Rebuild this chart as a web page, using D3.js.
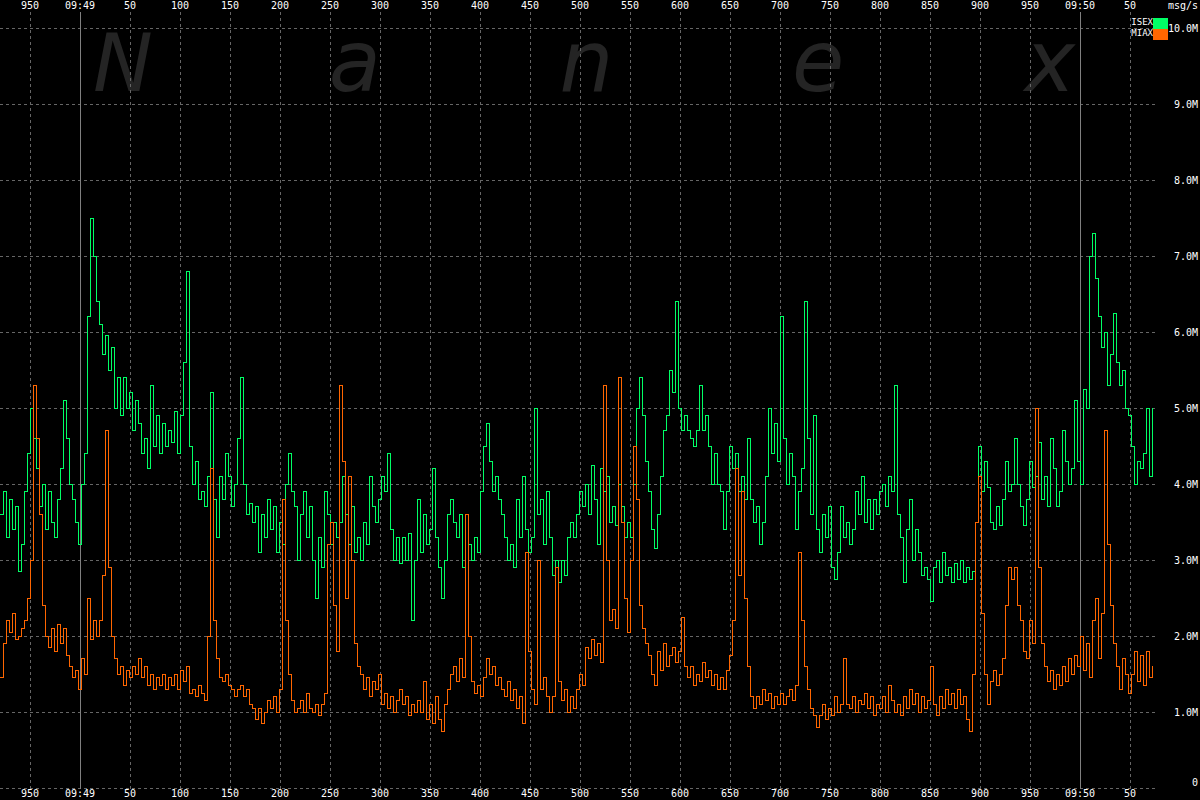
<!DOCTYPE html>
<html><head><meta charset="utf-8">
<script src="https://cdn.jsdelivr.net/npm/d3@7"></script>
<style>html,body{margin:0;padding:0;background:#000;overflow:hidden}</style>
</head><body><svg id="c" width="1200" height="800"></svg>
<script>
// time axis: milliseconds relative to 09:49:00.000, sampled every stepMs
const startMs = -80;
const stepMs = 3;

// ISEX messages per second (millions)
const isex = [
3.6,3.9,3.3,3.8,3.4,3.7,2.85,3.2,3.9,4.4,
5.0,4.6,4.2,3.7,4.0,3.4,3.9,3.5,3.3,3.8,
4.2,5.1,4.6,4.0,3.8,3.5,3.2,4.0,4.4,6.2,
7.5,7.0,6.4,6.1,5.7,5.95,5.5,5.8,5.0,5.4,
4.9,5.4,5.0,5.2,4.7,5.1,4.8,4.4,4.6,4.2,
5.3,4.5,4.9,4.4,4.8,4.5,4.7,4.55,4.95,4.4,
4.9,5.6,6.8,4.5,4.0,4.3,3.8,3.9,3.7,4.1,
5.2,3.8,3.3,4.1,3.8,4.4,4.1,3.7,4.0,4.6,
5.4,4.0,3.6,3.75,3.5,3.7,3.1,3.6,3.3,3.8,
3.4,3.7,3.1,3.5,3.2,4.0,4.4,3.9,3.7,3.0,
3.6,3.9,3.3,3.7,3.0,2.5,3.3,2.9,3.9,3.6,
3.2,3.5,3.3,3.5,4.1,3.6,3.2,3.7,3.1,3.3,
3.0,3.5,3.2,4.1,3.7,3.5,3.8,4.1,3.9,4.4,
3.4,3.0,3.3,2.95,3.3,3.0,3.35,2.2,3.0,3.8,
3.1,3.6,3.2,3.4,4.2,3.3,2.9,2.5,3.0,3.6,
3.8,3.5,3.3,3.6,2.9,3.6,3.2,3.0,3.3,3.1,
3.9,4.5,4.8,4.3,3.9,4.1,3.8,3.6,3.3,3.0,
3.2,2.9,3.8,3.3,4.1,3.4,3.1,3.3,5.0,3.6,
3.8,3.2,3.9,3.3,2.8,3.0,2.7,3.0,2.8,3.3,
3.5,3.3,3.6,3.9,3.7,4.0,3.6,4.25,3.8,3.2,
4.2,3.9,4.1,3.5,3.7,3.45,4.0,3.7,3.3,3.5,
3.3,4.0,5.0,5.4,4.9,4.3,3.9,3.4,3.15,3.6,
4.1,4.7,4.9,5.5,5.2,6.4,5.0,4.7,4.9,4.7,
4.6,4.5,4.7,5.3,4.7,4.9,4.5,4.0,4.4,4.0,
3.9,3.4,3.9,4.5,4.2,4.4,3.9,4.1,3.8,4.6,
3.8,3.5,3.7,3.2,3.5,4.1,5.0,4.4,4.8,4.3,
6.2,4.6,4.0,4.4,4.1,3.4,3.9,4.2,6.4,4.6,
3.6,4.9,3.4,3.1,3.6,3.3,3.7,2.9,2.75,3.1,
3.7,3.3,3.5,3.2,3.4,3.9,3.6,4.1,3.5,3.8,
3.4,3.8,3.6,3.9,4.0,3.7,4.1,3.9,5.3,3.6,
3.3,2.7,3.4,3.8,3.0,3.4,3.1,2.8,2.9,2.75,
2.45,2.9,3.0,2.7,3.1,2.8,2.9,2.7,2.95,2.75,
3.0,2.7,2.9,2.75,2.85,3.5,4.5,3.9,4.3,3.95,
3.5,3.4,3.7,3.45,3.8,4.3,3.9,4.0,4.6,4.0,
3.7,3.45,3.8,4.3,3.95,4.1,4.55,3.8,4.1,3.7,
4.6,4.2,3.7,3.9,4.7,4.3,4.0,4.2,5.1,4.3,
4.0,5.25,5.0,7.0,7.3,6.7,6.2,5.8,6.0,5.3,
5.7,6.25,5.6,5.3,5.5,5.0,4.9,4.5,4.0,4.3,
4.2,4.4,5.0,4.1,5.0
];

// MIAX messages per second (millions)
const miax = [
1.45,1.9,2.2,2.05,2.3,1.95,2.0,2.1,2.2,2.5,
3.0,5.3,4.6,3.6,2.4,2.0,1.85,2.1,1.8,2.15,
1.9,2.1,1.75,1.6,1.45,1.55,1.3,1.7,1.5,2.5,
1.95,2.2,2.0,2.2,2.8,4.7,2.9,2.0,1.7,1.5,
1.6,1.35,1.55,1.45,1.6,1.5,1.7,1.45,1.6,1.35,
1.5,1.3,1.45,1.35,1.5,1.3,1.45,1.35,1.5,1.3,
1.55,1.4,1.6,1.25,1.3,1.2,1.35,1.25,1.15,2.0,
4.2,2.2,1.7,1.45,1.4,1.5,1.35,1.3,1.2,1.3,
1.35,1.2,1.3,1.1,1.05,0.9,1.05,0.85,1.0,1.15,
1.05,1.2,1.0,1.3,3.8,2.2,1.5,1.15,1.0,1.05,
1.15,1.0,1.25,1.05,1.0,1.1,0.95,1.1,1.25,3.2,
3.5,2.4,1.8,5.3,4.3,2.5,4.1,3.0,1.9,1.6,
1.5,1.3,1.45,1.2,1.4,1.3,1.5,1.1,1.25,1.05,
1.2,1.0,1.15,1.3,1.1,1.2,0.95,1.1,1.0,1.15,
1.0,1.4,0.9,1.1,0.85,1.2,0.9,0.75,1.1,1.3,
1.5,1.6,1.4,1.7,1.45,3.6,2.0,1.4,1.25,1.35,
1.2,1.45,1.7,1.5,1.6,1.35,1.45,1.3,1.2,1.4,
1.15,1.3,1.05,1.2,0.85,3.1,1.8,1.3,1.1,3.0,
1.3,1.45,1.2,1.0,1.2,2.9,1.4,1.15,1.3,1.0,
1.2,1.05,1.3,1.5,1.35,1.85,1.7,1.95,1.75,1.9,
1.65,5.3,3.0,2.2,2.35,2.1,5.4,3.5,2.5,2.05,
3.0,4.5,3.8,2.4,2.1,1.9,1.75,1.5,1.35,1.8,
1.55,1.9,1.6,1.75,1.85,1.65,1.8,2.25,1.6,1.45,
1.6,1.35,1.5,1.4,1.65,1.45,1.55,1.35,1.5,1.3,
1.45,1.3,1.55,1.75,2.2,4.2,2.8,3.9,2.5,1.6,
1.2,1.05,1.2,1.1,1.3,1.15,1.25,1.05,1.2,1.1,
1.25,1.1,1.2,1.3,1.15,1.35,3.1,2.2,1.6,1.3,
1.05,0.95,0.8,0.95,1.1,0.9,1.05,0.95,1.2,1.0,
1.1,1.7,1.1,1.05,1.2,1.0,1.15,1.1,1.25,1.05,
1.2,0.95,1.1,1.05,1.2,1.0,1.35,1.15,1.0,1.1,
0.95,1.2,1.05,1.3,1.1,1.25,1.0,1.2,1.05,1.15,
1.6,1.1,0.95,1.2,1.05,1.3,1.1,1.25,1.05,1.3,
1.1,1.2,0.9,0.75,1.5,3.5,4.1,2.3,1.5,1.1,
1.4,1.55,1.35,1.5,1.7,2.4,2.9,2.75,2.9,2.4,
2.2,1.8,1.7,2.2,1.9,5.0,2.9,1.9,1.6,1.4,
1.55,1.3,1.5,1.35,1.6,1.4,1.7,1.5,1.75,1.6,
2.0,1.55,1.9,1.45,2.2,2.5,1.7,2.3,4.7,3.2,
2.4,1.9,1.6,1.3,1.7,1.5,1.25,1.5,1.8,1.4,
1.75,1.35,1.8,1.45,1.6
];

const seriesNames = ["ISEX", "MIAX"];
const seriesColors = ["#00ff66", "#ff6600"];
const yTicks = [0,1,2,3,4,5,6,7,8,9,10];
const yTickLabels = ["0","1.0M","2.0M","3.0M","4.0M","5.0M","6.0M","7.0M","8.0M","9.0M","10.0M"];
const xTicks = [-50,0,50,100,150,200,250,300,350,400,450,500,550,600,650,700,750,800,850,900,950,1000,1050];
const xTickLabels = ["950","09:49","50","100","150","200","250","300","350","400","450","500","550","600","650","700","750","800","850","900","950","09:50","50"];
const majorTicks = [0, 1000];
const unitLabel = "msg/s";
const watermark = ["N","a","n","e","x"];

const svg = d3.select("#c");
svg.append("rect").attr("width",1200).attr("height",800).attr("fill","#000");

const x = d3.scaleLinear().domain([-80, 1075]).range([0, 1155]);
const y = d3.scaleLinear().domain([0, 10]).range([788, 28]);
const mono = "'DejaVu Sans Mono', monospace";

// watermark
const wmX = d3.scalePoint().domain(d3.range(watermark.length)).range([123, 1050]);
svg.append("g").selectAll("text").data(watermark).join("text")
  .attr("x",(d,i)=>wmX(i)).attr("y",91)
  .attr("text-anchor","middle")
  .attr("font-family","'DejaVu Sans', sans-serif")
  .attr("font-style","italic")
  .attr("font-size",(d,i)=> i===0 ? 80 : 85)
  .attr("fill","#242424")
  .text(d=>d);

// grid
const grid = svg.append("g").attr("shape-rendering","crispEdges");
grid.selectAll("line.h").data(yTicks).join("line").attr("class","h")
  .attr("x1",0).attr("x2",1155)
  .attr("y1",d=>Math.round(y(d))+0.5).attr("y2",d=>Math.round(y(d))+0.5)
  .attr("stroke","#666").attr("stroke-dasharray","3,3");
grid.selectAll("line.v").data(xTicks).join("line").attr("class","v")
  .attr("x1",d=>Math.round(x(d))+0.5).attr("x2",d=>Math.round(x(d))+0.5)
  .attr("y1",12).attr("y2",789)
  .attr("stroke",d=>majorTicks.includes(d)?"#808080":"#666")
  .attr("stroke-dasharray",d=>majorTicks.includes(d)?null:"3,3");

// lines
const series = [isex, miax];
const line = d3.line()
  .x((d,i)=>x(startMs + i*stepMs))
  .y(d=>y(d))
  .curve(d3.curveStepAfter);
svg.append("g").selectAll("path").data(series).join("path")
  .attr("d",d=>line(d))
  .attr("fill","none")
  .attr("stroke",(d,i)=>seriesColors[i])
  .attr("stroke-width",1)
  .attr("shape-rendering","crispEdges");

// x labels top & bottom
const xl = svg.append("g").attr("font-family",mono).attr("font-size",10).attr("fill","#fff").attr("text-anchor","middle");
xl.selectAll("text.t").data(xTicks).join("text").attr("class","t")
  .attr("x",d=>x(d)).attr("y",9).text((d,i)=>xTickLabels[i]);
xl.selectAll("text.b").data(xTicks).join("text").attr("class","b")
  .attr("x",d=>x(d)).attr("y",797).text((d,i)=>xTickLabels[i]);

// y labels right
svg.append("g").attr("font-family",mono).attr("font-size",10).attr("fill","#fff").attr("text-anchor","end")
  .selectAll("text").data(yTicks).join("text")
  .attr("x",1198).attr("y",d=> d===0 ? 786 : y(d)+4)
  .text((d,i)=>yTickLabels[i]);

svg.append("text").attr("x",1198).attr("y",9).attr("text-anchor","end")
  .attr("font-family",mono).attr("font-size",10).attr("fill","#fff").text(unitLabel);

// legend
const lg = svg.append("g");
seriesNames.forEach((n,i)=>{
  lg.append("rect").attr("x",1153).attr("y",18+i*11).attr("width",15).attr("height",11).attr("fill",seriesColors[i]);
  lg.append("text").attr("x",1153).attr("y",25+i*11).attr("text-anchor","end")
    .attr("font-family",mono).attr("font-size",9).attr("fill","#fff").text(n);
});
</script>
</body></html>
